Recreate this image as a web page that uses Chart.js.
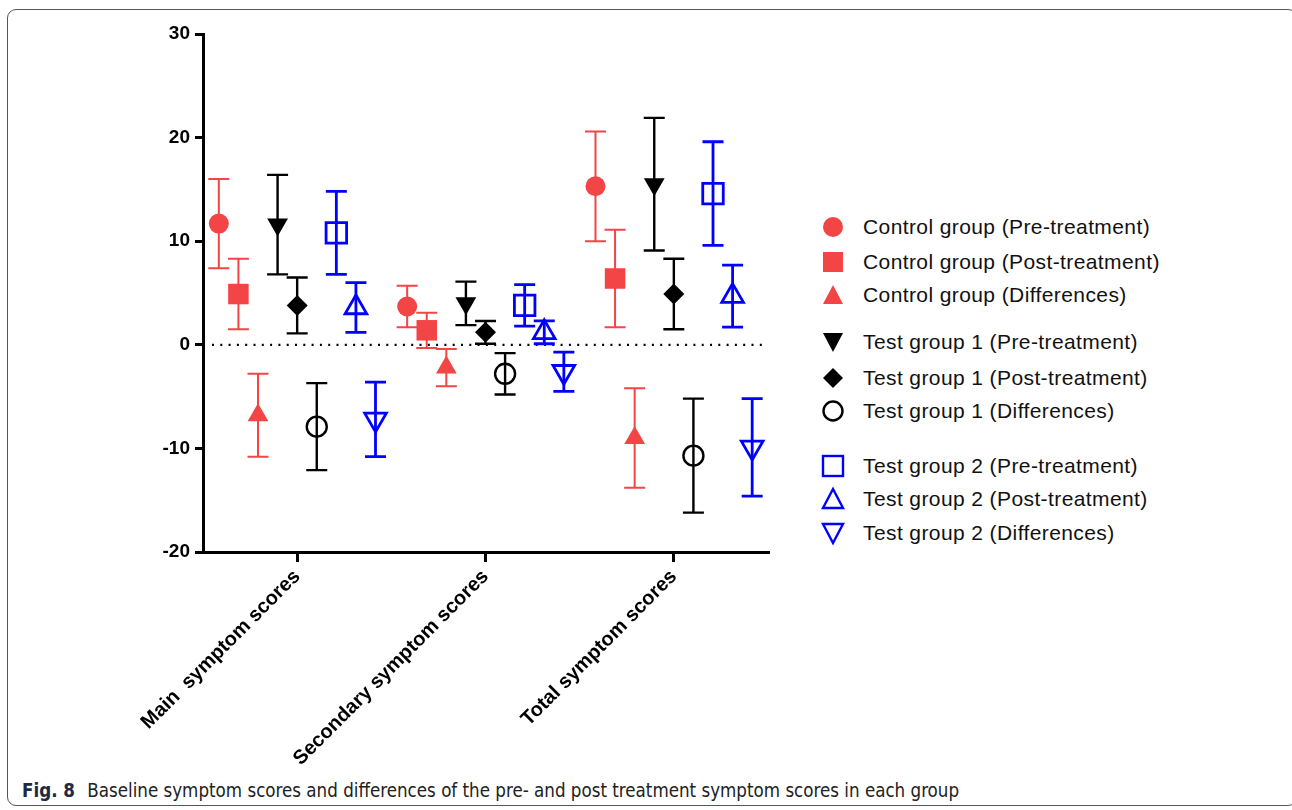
<!DOCTYPE html>
<html>
<head>
<meta charset="utf-8">
<script src="https://cdn.jsdelivr.net/npm/chart.js@4.4.1/dist/chart.umd.min.js"></script>
<style>
  html, body { margin:0; padding:0; background:#fff; }
  body { width:1292px; height:810px; position:relative; overflow:hidden; font-family:'Liberation Sans', Arial, sans-serif; }
  .frame { position:absolute; left:7px; top:9px; width:1290px; height:797px; border:1px solid #555; border-radius:9px; box-sizing:border-box; }
  .plot { position:absolute; left:0; top:0; width:800px; height:780px; }
  .legend { position:absolute; left:0; top:0; }
  .legend .item { position:absolute; left:818px; height:30px; display:flex; align-items:center; white-space:nowrap; font-size:21px; letter-spacing:0.4px; color:#111; }
  .legend svg { width:30px; height:30px; margin-right:15px; flex-shrink:0; }
  .caption { position:absolute; left:22px; top:780px; font-family:'DejaVu Sans Condensed','Liberation Sans Narrow','Noto Sans',sans-serif; font-size:18.6px; color:#222; white-space:nowrap; }
  .caption b { color:#1d2a44; margin-right:7px; }
</style>
</head>
<body>
<div class="frame"></div>
<div class="plot"><canvas id="c"></canvas></div>
<div class="legend" id="legend"></div>
<div class="caption"><b>Fig. 8</b> Baseline symptom scores and differences of the pre- and post treatment symptom scores in each group</div>
<script>
const categories = ['Main  symptom scores', 'Secondary symptom scores', 'Total symptom scores'];
const yTicks = [-20, -10, 0, 10, 20, 30];

// mean and SD per series, one value per category
const ctrlPre    = [11.7, 3.7, 15.3];   const ctrlPreSD  = [4.3, 2.0, 5.3];
const ctrlPost   = [4.9, 1.4, 6.4];     const ctrlPostSD = [3.4, 1.7, 4.7];
const ctrlDiff   = [-6.8, -2.2, -9.0];  const ctrlDiffSD = [4.0, 1.8, 4.8];
const t1Pre      = [11.6, 4.0, 15.5];   const t1PreSD    = [4.8, 2.1, 6.4];
const t1Post     = [3.8, 1.2, 4.9];     const t1PostSD   = [2.7, 1.1, 3.4];
const t1Diff     = [-7.9, -2.8, -10.7]; const t1DiffSD   = [4.2, 2.0, 5.5];
const t2Pre      = [10.8, 3.8, 14.6];   const t2PreSD    = [4.0, 2.0, 5.0];
const t2Post     = [3.6, 1.2, 4.7];     const t2PostSD   = [2.4, 1.1, 3.0];
const t2Diff     = [-7.2, -2.6, -9.9];  const t2DiffSD   = [3.6, 1.9, 4.7];

const RED = '#F34545', BLUE = '#0000FF', BLACK = '#000';

const series = [
  { label:'Control group (Pre-treatment)',  m:ctrlPre,  sd:ctrlPreSD,  col:RED,   style:'circle',   r:10,   rot:0,   fill:true,  lw:2 },
  { label:'Control group (Post-treatment)', m:ctrlPost, sd:ctrlPostSD, col:RED,   style:'rect',     r:14.5, rot:0,   fill:true,  lw:2 },
  { label:'Control group (Differences)',    m:ctrlDiff, sd:ctrlDiffSD, col:RED,   style:'triangle', r:12,   rot:0,   fill:true,  lw:2 },
  { label:'Test group 1 (Pre-treatment)',   m:t1Pre,    sd:t1PreSD,    col:BLACK, style:'triangle', r:12,   rot:180, fill:true,  lw:2.4 },
  { label:'Test group 1 (Post-treatment)',  m:t1Post,   sd:t1PostSD,   col:BLACK, style:'rectRot',  r:10.5, rot:0,   fill:true,  lw:2.4 },
  { label:'Test group 1 (Differences)',     m:t1Diff,   sd:t1DiffSD,   col:BLACK, style:'circle',   r:10,   rot:0,   fill:false, lw:2.4 },
  { label:'Test group 2 (Pre-treatment)',   m:t2Pre,    sd:t2PreSD,    col:BLUE,  style:'rect',     r:14.5, rot:0,   fill:false, lw:2.8 },
  { label:'Test group 2 (Post-treatment)',  m:t2Post,   sd:t2PostSD,   col:BLUE,  style:'triangle', r:12.5, rot:0,   fill:false, lw:2.8 },
  { label:'Test group 2 (Differences)',     m:t2Diff,   sd:t2DiffSD,   col:BLUE,  style:'triangle', r:12.5, rot:180, fill:false, lw:2.8 },
];
const GAP = 0.104;   // spacing between series inside a category

const datasets = series.map((s, i) => ({
  label: s.label,
  data: s.m.map((v, c) => ({ x: c + (i - 4) * GAP, y: v })),
  sd: s.sd,
  errColor: s.col,
  errWidth: s.lw,
  pointStyle: s.style,
  pointRadius: s.r,
  pointHoverRadius: s.r,
  pointRotation: s.rot,
  backgroundColor: s.fill ? s.col : 'rgba(0,0,0,0)',
  borderColor: s.col,
  borderWidth: s.fill ? 0 : s.lw,
  showLine: false,
}));

// whiskers with caps, drawn under the markers
const errorBars = {
  id: 'errorBars',
  beforeDatasetsDraw(chart) {
    const { ctx, scales: { x, y } } = chart;
    ctx.save();
    chart.data.datasets.forEach(ds => {
      ctx.strokeStyle = ds.errColor;
      ctx.lineWidth = ds.errWidth;
      ds.data.forEach((p, k) => {
        const px = x.getPixelForValue(p.x);
        const top = y.getPixelForValue(p.y + ds.sd[k]);
        const bot = y.getPixelForValue(p.y - ds.sd[k]);
        ctx.beginPath();
        ctx.moveTo(px, top); ctx.lineTo(px, bot);
        ctx.moveTo(px - 10.5, top); ctx.lineTo(px + 10.5, top);
        ctx.moveTo(px - 10.5, bot); ctx.lineTo(px + 10.5, bot);
        ctx.stroke();
      });
    });
    ctx.restore();
  }
};

const zeroLine = {
  id: 'zeroLine',
  beforeDatasetsDraw(chart) {
    const { ctx, chartArea, scales: { y } } = chart;
    const py = y.getPixelForValue(0);
    ctx.save();
    ctx.strokeStyle = '#000';
    ctx.lineWidth = 2.2;
    ctx.setLineDash([2, 6.3]);
    ctx.beginPath();
    ctx.moveTo(chartArea.left + 9, py);
    ctx.lineTo(chartArea.right - 3, py);
    ctx.stroke();
    ctx.restore();
  }
};

new Chart(document.getElementById('c'), {
  type: 'scatter',
  data: { datasets },
  options: {
    responsive: true, maintainAspectRatio: false, animation: false,
    layout: { padding: { top: 34, right: 32, left: 0, bottom: 0 } },
    plugins: { legend: { display: false }, tooltip: { enabled: false } },
    scales: {
      x: {
        type: 'linear', min: -0.5, max: 2.5,
        afterBuildTicks: sc => { sc.ticks = categories.map((c, i) => ({ value: i })); },
        afterFit: sc => { sc.height = 780 - 552; },
        border: { display: true, color: '#000', width: 3 },
        grid: { drawOnChartArea: false, drawTicks: true, tickLength: 10, color: '#000', lineWidth: 3 },
        ticks: { autoSkip: false, minRotation: 45, maxRotation: 45, padding: 3, color: '#000',
          font: { family: 'Liberation Sans', size: 20, weight: 'bold' },
          callback: v => categories[v] ?? '' },
      },
      y: {
        min: -20, max: 30,
        afterBuildTicks: sc => { sc.ticks = yTicks.map(v => ({ value: v })); },
        afterFit: sc => { sc.width = 203; },
        border: { display: true, color: '#000', width: 3 },
        grid: { drawOnChartArea: false, drawTicks: true, tickLength: 8, color: '#000', lineWidth: 3 },
        ticks: { padding: 5, color: '#000', font: { family: 'Liberation Sans', size: 19, weight: 'bold' } },
      },
    },
  },
  plugins: [zeroLine, errorBars],
});

// legend built from the same series list
const legendRows = [227, 262, 295, 342, 378, 411, 466, 499, 533];
function markerSvg(s) {
  const f = s.fill ? s.col : 'none';
  const sw = s.fill ? 0 : 2.4;
  let shape = '';
  if (s.style === 'circle') shape = `<circle cx="15" cy="15" r="${s.fill ? 10 : 9.5}" fill="${f}" stroke="${s.col}" stroke-width="${sw}"/>`;
  else if (s.style === 'rect') shape = `<rect x="5" y="5" width="20" height="20" fill="${f}" stroke="${s.col}" stroke-width="${sw}"/>`;
  else if (s.style === 'rectRot') shape = `<polygon points="15,5 25,15 15,25 5,15" fill="${f}"/>`;
  else if (s.rot === 180) shape = `<polygon points="5,6 25,6 15,25" fill="${f}" stroke="${s.col}" stroke-width="${sw}"/>`;
  else shape = `<polygon points="15,5 25,24 5,24" fill="${f}" stroke="${s.col}" stroke-width="${sw}"/>`;
  return `<svg viewBox="0 0 30 30">${shape}</svg>`;
}
const legend = document.getElementById('legend');
series.forEach((s, i) => {
  const d = document.createElement('div');
  d.className = 'item';
  d.style.top = (legendRows[i] - 15) + 'px';
  d.innerHTML = markerSvg(s) + '<span>' + s.label + '</span>';
  legend.appendChild(d);
});
</script>
</body>
</html>
